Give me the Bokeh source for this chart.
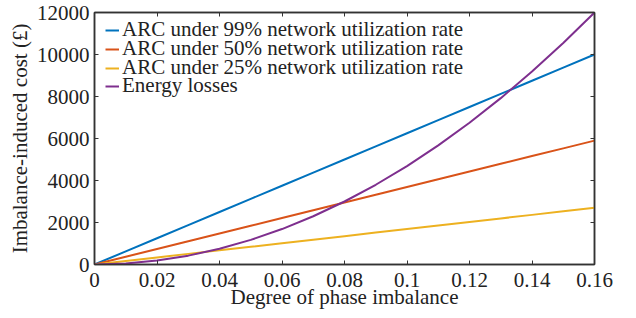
from bokeh.plotting import figure
from bokeh.models import LinearAxis, FixedTicker, Legend, LegendItem, Range1d
from bokeh.embed import file_html
from bokeh.resources import INLINE

degree = [0.00, 0.01, 0.02, 0.03, 0.04, 0.05, 0.06, 0.07, 0.08,
          0.09, 0.10, 0.11, 0.12, 0.13, 0.14, 0.15, 0.16]
arc_99 = [0, 625, 1250, 1875, 2500, 3125, 3750, 4375, 5000,
          5625, 6250, 6875, 7500, 8125, 8750, 9375, 10000]
arc_50 = [0, 369, 738, 1106, 1475, 1844, 2213, 2581, 2950,
          3319, 3688, 4056, 4425, 4794, 5163, 5531, 5900]
arc_25 = [0, 169, 338, 506, 675, 844, 1013, 1181, 1350,
          1519, 1688, 1856, 2025, 2194, 2363, 2531, 2700]
energy = [0, 47, 188, 422, 750, 1172, 1688, 2297, 3000,
          3797, 4688, 5672, 6750, 7922, 9188, 10547, 12000]

series_names = ["ARC under 99% network utilization rate",
                "ARC under 50% network utilization rate",
                "ARC under 25% network utilization rate",
                "Energy losses"]
colors = ["#0072BD", "#D95319", "#EDB120", "#7E2F8E"]

x_ticks = [0, 0.02, 0.04, 0.06, 0.08, 0.10, 0.12, 0.14, 0.16]
x_tick_labels = ["0", "0.02", "0.04", "0.06", "0.08", "0.1", "0.12", "0.14", "0.16"]
y_ticks = [0, 2000, 4000, 6000, 8000, 10000, 12000]
y_tick_labels = ["0", "2000", "4000", "6000", "8000", "10000", "12000"]
x_title = "Degree of phase imbalance"
y_title = "Imbalance-induced cost (£)"

FONT = "'Liberation Serif', serif"
FS = "21px"
AX = "#333333"
TXT = "#222222"

p = figure(width=636, height=318, output_backend="svg", toolbar_location=None,
           x_range=Range1d(0, 0.16), y_range=Range1d(0, 12000),
           min_border_left=94, min_border_right=42, min_border_top=12,
           min_border_bottom=54, x_axis_location=None, y_axis_location=None)
p.grid.visible = False
p.outline_line_color = AX
p.outline_line_width = 1.5
p.background_fill_color = "white"
p.border_fill_color = "white"

def style(ax, labels=True):
    ax.axis_line_color = AX
    ax.axis_line_width = 1.5
    ax.major_tick_in = 4
    ax.major_tick_out = 0
    ax.major_tick_line_color = AX
    ax.minor_tick_line_color = None
    ax.major_label_text_font = FONT
    ax.major_label_text_color = TXT
    ax.axis_label_text_font = FONT
    ax.axis_label_text_font_style = "normal"
    ax.axis_label_text_color = TXT
    ax.axis_label_text_font_size = FS
    ax.major_label_text_font_size = FS
    if not labels:
        ax.major_label_overrides = {t: "" for t in ax.ticker.ticks}
        ax.major_label_standoff = 0

xb = LinearAxis(ticker=FixedTicker(ticks=x_ticks),
                major_label_overrides={t: l for t, l in zip(x_ticks, x_tick_labels)},
                axis_label=x_title)
style(xb)
xb.major_label_standoff = 8
xb.axis_label_standoff = -5
p.add_layout(xb, "below")

yl = LinearAxis(ticker=FixedTicker(ticks=y_ticks),
                major_label_overrides={t: l for t, l in zip(y_ticks, y_tick_labels)},
                axis_label=y_title)
style(yl)
yl.major_label_standoff = 5
yl.axis_label_standoff = 2
p.add_layout(yl, "left")

xt = LinearAxis(ticker=FixedTicker(ticks=x_ticks))
style(xt, labels=False)
p.add_layout(xt, "above")
yr = LinearAxis(ticker=FixedTicker(ticks=y_ticks))
style(yr, labels=False)
p.add_layout(yr, "right")

legend_bottoms = [222, 203, 184, 166]
for name, ys, c, lb in zip(series_names, [arc_99, arc_50, arc_25, energy], colors, legend_bottoms):
    r = p.line(degree, ys, line_color=c, line_width=2)
    leg = Legend(items=[LegendItem(label=name, renderers=[r])], location=(11, lb))
    leg.label_text_font = FONT
    leg.label_text_font_size = FS
    leg.label_text_color = TXT
    leg.border_line_color = None
    leg.background_fill_alpha = 0
    leg.glyph_width = 14
    leg.glyph_height = 18
    leg.label_height = 18
    leg.spacing = 0
    leg.padding = 0
    leg.margin = 0
    leg.label_standoff = 3
    p.add_layout(leg)

open("out.html", "w").write(file_html(p, INLINE))
